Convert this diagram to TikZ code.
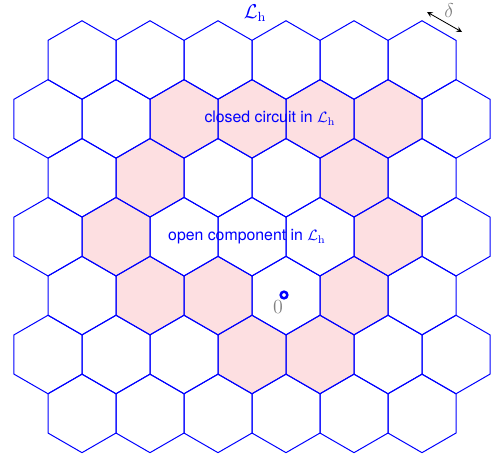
\documentclass[tikz,border=0pt]{standalone}
\usepackage{fontspec}
\setsansfont{TeX Gyre Heros}
\definecolor{cellpink}{RGB}{253,223,225}

\begin{document}
\begin{tikzpicture}[x=0.6pt, y=-0.6pt,
  hexcell/.style={draw=blue, line width=0.6pt},
  closedcell/.style={fill=cellpink},
  lbl/.style={text=blue, font=\sffamily\fontsize{9.5pt}{11pt}\selectfont}]
  \useasboundingbox (0,0) rectangle (492,457);
  % closed hexagons
  \foreach \x/\r in {184/1,252/1,320/1,388/1,150/2,354/2,116/3,388/3,150/4,218/4,354/4,252/5,320/5}
    \fill[closedcell] (\x,60+58.9*\r) +(30:39.26) -- +(90:39.26) -- +(150:39.26)
      -- +(210:39.26) -- +(270:39.26) -- +(330:39.26) -- cycle;
  % the lattice, rows of 6 and 7 cells
  \foreach \r in {0,2,4,6}
    \foreach \k in {0,...,5}
      \draw[hexcell] (82+68*\k,60+58.9*\r) +(30:39.26) -- +(90:39.26) -- +(150:39.26)
        -- +(210:39.26) -- +(270:39.26) -- +(330:39.26) -- cycle;
  \foreach \r in {1,3,5}
    \foreach \k in {0,...,6}
      \draw[hexcell] (48+68*\k,60+58.9*\r) +(30:39.26) -- +(90:39.26) -- +(150:39.26)
        -- +(210:39.26) -- +(270:39.26) -- +(330:39.26) -- cycle;
  % labels
  \node[text=blue, font=\large] (lattice) at (255,13) {$\mathcal{L}_{\mathrm{h}}$};
  \node[lbl] (circuit) at (270,118) {closed circuit in $\mathcal{L}_{\mathrm{h}}$};
  \node[lbl] (component) at (247,237) {open component in $\mathcal{L}_{\mathrm{h}}$};
  \node[draw=blue, circle, line width=1.5pt, fill=white, inner sep=0pt, minimum size=4pt] (origin) at (284,295) {};
  \node[text=gray, font=\large] (zero) at (278,307) {$0$};
  % mesh size
  \node[text=gray, font=\large] (delta) at (449,11) {$\delta$};
  \coordinate (d1) at (427,12);
  \coordinate (d2) at (462,32);
  \draw[<->, >=stealth, line width=0.5pt] (d1) -- (d2);
\end{tikzpicture}
\end{document}
